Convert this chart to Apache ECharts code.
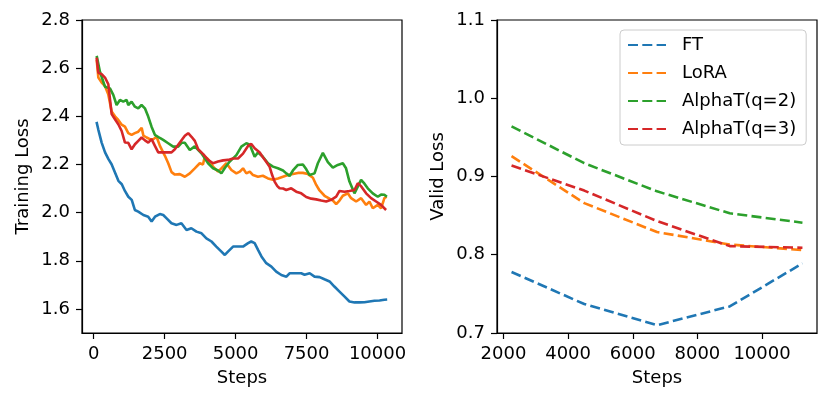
<!DOCTYPE html>
<html><head><meta charset="utf-8">
<script src="https://cdn.jsdelivr.net/npm/echarts@6/dist/echarts.min.js"></script>
<style>html,body{margin:0;padding:0;background:#fff}#c{width:830px;height:404px}</style>
</head><body><div id="c"></div>
<script>
// ---- Training loss (left panel), [step, loss] pairs ----
const ftTrain = [[100,2.377],[160,2.346],[280,2.291],[400,2.250],[520,2.222],[630,2.201],[750,2.167],[870,2.132],[990,2.118],[1100,2.090],[1220,2.066],[1340,2.053],[1450,2.011],[1570,2.004],[1750,1.990],[1920,1.983],[2040,1.963],[2160,1.983],[2330,1.994],[2450,1.990],[2570,1.976],[2740,1.956],[2920,1.949],[3090,1.956],[3270,1.928],[3440,1.935],[3620,1.921],[3800,1.914],[3970,1.893],[4150,1.880],[4320,1.859],[4500,1.838],[4620,1.824],[4730,1.838],[4910,1.859],[5090,1.859],[5260,1.859],[5440,1.873],[5550,1.880],[5670,1.873],[5790,1.845],[5910,1.818],[6080,1.790],[6260,1.776],[6430,1.755],[6610,1.741],[6790,1.734],[6900,1.748],[7080,1.748],[7310,1.748],[7430,1.742],[7610,1.748],[7780,1.734],[7960,1.732],[8130,1.723],[8310,1.714],[8480,1.693],[8660,1.672],[8840,1.651],[9010,1.631],[9190,1.627],[9360,1.627],[9540,1.628],[9710,1.631],[9890,1.634],[10070,1.635],[10240,1.638],[10340,1.639]];
const loraTrain = [[105,2.635],[164,2.561],[281,2.540],[400,2.525],[516,2.490],[633,2.420],[750,2.400],[867,2.385],[985,2.365],[1100,2.357],[1219,2.330],[1336,2.323],[1450,2.330],[1570,2.336],[1690,2.352],[1750,2.320],[1864,2.312],[1980,2.305],[2099,2.305],[2216,2.315],[2333,2.277],[2509,2.236],[2626,2.205],[2743,2.168],[2860,2.158],[3036,2.160],[3212,2.149],[3386,2.163],[3562,2.184],[3737,2.205],[3850,2.200],[3913,2.232],[4030,2.222],[4206,2.191],[4382,2.170],[4499,2.184],[4675,2.205],[4851,2.177],[5027,2.163],[5150,2.170],[5261,2.184],[5378,2.163],[5500,2.170],[5613,2.156],[5788,2.149],[5960,2.153],[6140,2.142],[6316,2.136],[6492,2.142],[6667,2.149],[6843,2.156],[7020,2.160],[7195,2.165],[7371,2.165],[7550,2.160],[7723,2.145],[7840,2.115],[7957,2.092],[8133,2.070],[8308,2.058],[8430,2.050],[8543,2.035],[8660,2.050],[8777,2.070],[8953,2.080],[9070,2.060],[9246,2.046],[9422,2.060],[9598,2.032],[9715,2.046],[9832,2.018],[10008,2.032],[10125,2.018],[10242,2.060],[10320,2.066]];
const alpha2Train = [[105,2.651],[220,2.585],[397,2.523],[573,2.516],[690,2.489],[807,2.447],[925,2.468],[1042,2.461],[1159,2.468],[1218,2.447],[1335,2.461],[1452,2.440],[1569,2.433],[1686,2.447],[1804,2.433],[1921,2.399],[2038,2.357],[2155,2.323],[2330,2.310],[2448,2.302],[2624,2.288],[2800,2.274],[2976,2.274],[3095,2.290],[3210,2.290],[3386,2.260],[3560,2.275],[3796,2.246],[4030,2.205],[4206,2.184],[4380,2.175],[4499,2.163],[4620,2.185],[4792,2.212],[5027,2.239],[5202,2.274],[5378,2.288],[5500,2.282],[5671,2.232],[5790,2.250],[5960,2.232],[6140,2.205],[6316,2.191],[6490,2.184],[6670,2.175],[6785,2.163],[6902,2.152],[7020,2.175],[7195,2.198],[7370,2.200],[7490,2.180],[7605,2.156],[7780,2.163],[7898,2.205],[8074,2.248],[8250,2.210],[8426,2.187],[8600,2.198],[8777,2.205],[8890,2.184],[9011,2.129],[9187,2.080],[9304,2.108],[9420,2.136],[9540,2.120],[9656,2.101],[9832,2.080],[10008,2.066],[10125,2.075],[10240,2.074],[10330,2.066]];
const alpha3Train = [[105,2.644],[164,2.581],[281,2.575],[398,2.561],[516,2.533],[633,2.409],[750,2.388],[867,2.367],[985,2.339],[1102,2.291],[1219,2.290],[1336,2.263],[1454,2.284],[1571,2.298],[1688,2.312],[1806,2.300],[1923,2.291],[2040,2.305],[2157,2.277],[2274,2.250],[2450,2.250],[2626,2.250],[2743,2.250],[2860,2.263],[3036,2.291],[3212,2.319],[3329,2.330],[3446,2.315],[3563,2.298],[3681,2.263],[3857,2.243],[4030,2.219],[4206,2.205],[4382,2.212],[4558,2.217],[4734,2.219],[4909,2.225],[5085,2.225],[5261,2.245],[5437,2.277],[5554,2.285],[5671,2.267],[5850,2.250],[5967,2.229],[6084,2.210],[6199,2.190],[6290,2.155],[6374,2.129],[6470,2.110],[6550,2.101],[6670,2.100],[6785,2.094],[6960,2.101],[7136,2.087],[7312,2.080],[7488,2.065],[7664,2.058],[7840,2.055],[8016,2.050],[8191,2.046],[8367,2.053],[8543,2.066],[8660,2.090],[8836,2.087],[9011,2.090],[9187,2.094],[9304,2.122],[9420,2.110],[9598,2.080],[9773,2.060],[9949,2.046],[10125,2.032],[10301,2.011]];

// ---- Validation loss (right panel) ----
const validSteps = [2250, 4500, 6750, 9000, 11250];
const ftValid = [0.778, 0.737, 0.710, 0.734, 0.789];
const loraValid = [0.926, 0.866, 0.829, 0.813, 0.806];
const alpha2Valid = [0.964, 0.917, 0.881, 0.853, 0.841];
const alpha3Valid = [0.914, 0.882, 0.843, 0.811, 0.809];

const seriesNames = ['FT', 'LoRA', 'AlphaT(q=2)', 'AlphaT(q=3)'];
const colors = ['#1f77b4', '#ff7f0e', '#2ca02c', '#d62728'];

// tick labels
const leftXTicks = [0, 2500, 5000, 7500, 10000];
const leftYTicks = [1.6, 1.8, 2.0, 2.2, 2.4, 2.6, 2.8];
const rightXTicks = [2000, 4000, 6000, 8000, 10000];
const rightYTicks = [0.7, 0.8, 0.9, 1.0, 1.1];

const FONT = 'DejaVu Sans';
const txt = {color: '#000', fontFamily: FONT, fontSize: 18};

function xAxisCfg(gridIndex, min, max, ticks, name) {
  return {
    type: 'value', gridIndex, min, max, name, nameLocation: 'middle', nameGap: 36,
    nameTextStyle: txt,
    axisLine: {show: true, onZero: false, lineStyle: {color: '#000', width: 1.2}},
    splitLine: {show: false},
    axisTick: {show: true, length: 6, lineStyle: {color: '#000', width: 1.2}, customValues: ticks},
    axisLabel: Object.assign({margin: 12, customValues: ticks, formatter: v => String(v)}, txt)
  };
}
function yAxisCfg(gridIndex, min, max, ticks, name) {
  return {
    type: 'value', gridIndex, min, max, name, nameLocation: 'middle', nameGap: 50,
    nameTextStyle: txt,
    axisLine: {show: true, onZero: false, lineStyle: {color: '#000', width: 1.2}},
    splitLine: {show: false},
    axisTick: {show: true, length: 6, lineStyle: {color: '#000', width: 1.2}, customValues: ticks},
    axisLabel: Object.assign({margin: 12, customValues: ticks, formatter: v => v.toFixed(1)}, txt)
  };
}

const trainData = [ftTrain, loraTrain, alpha2Train, alpha3Train];
const validData = [ftValid, loraValid, alpha2Valid, alpha3Valid];

const series = [];
trainData.forEach((d, i) => {
  series.push({
    name: seriesNames[i] + ' train', type: 'line', xAxisIndex: 0, yAxisIndex: 0,
    data: d, showSymbol: false, symbol: 'none', animation: false,
    lineStyle: {color: colors[i], width: 2.6}, itemStyle: {color: colors[i]}
  });
});
validData.forEach((d, i) => {
  series.push({
    name: seriesNames[i], type: 'line', xAxisIndex: 1, yAxisIndex: 1,
    data: validSteps.map((s, k) => [s, d[k]]), showSymbol: false, symbol: 'none', animation: false,
    lineStyle: {color: colors[i], width: 2.6, type: [10, 4.3]}, itemStyle: {color: colors[i]}
  });
});

const chart = echarts.init(document.getElementById('c'), null, {renderer: 'canvas'});
chart.setOption({
  animation: false,
  backgroundColor: '#fff',
  grid: [
    {left: 82, right: 428, top: 20, bottom: 71, show: true, borderColor: '#000', borderWidth: 1.2, containLabel: false},
    {left: 497, right: 13, top: 20, bottom: 71, show: true, borderColor: '#000', borderWidth: 1.2, containLabel: false}
  ],
  xAxis: [
    xAxisCfg(0, -412, 10862, leftXTicks, 'Steps'),
    xAxisCfg(1, 1800, 11700, rightXTicks, 'Steps')
  ],
  yAxis: [
    yAxisCfg(0, 1.5, 2.8, leftYTicks, 'Training Loss'),
    yAxisCfg(1, 0.7, 1.1, rightYTicks, 'Valid Loss')
  ],
  legend: {
    data: seriesNames, orient: 'vertical', left: 620, top: 30,
    itemWidth: 38, itemHeight: 14, itemGap: 10,
    padding: [6, 10, 7, 7],
    backgroundColor: '#fff', borderColor: '#cccccc', borderWidth: 1, borderRadius: 4,
    itemStyle: {opacity: 0, borderWidth: 0},
    textStyle: Object.assign({padding: [0, 0, 0, 11], lineHeight: 18}, txt)
  },
  series
});
</script>
</body></html>
